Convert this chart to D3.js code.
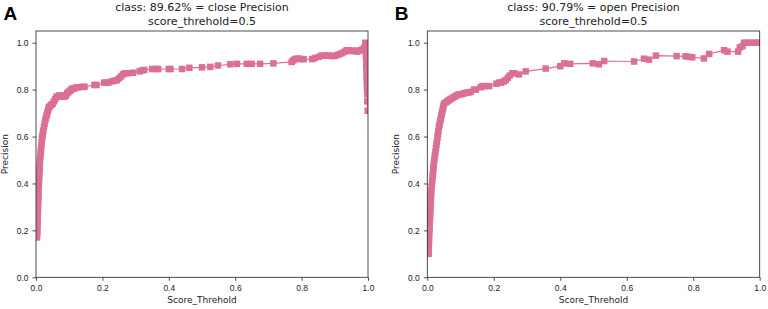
<!doctype html>
<html>
  <head>
    <script src="https://cdn.jsdelivr.net/npm/d3@7/dist/d3.min.js"></script>
    <style>
      body { margin: 0; background: #fff; }
      svg { font-family: "DejaVu Sans", sans-serif; }
      .tick text { font-size: 8.5px; fill: #222; }
      .lbl { font-size: 9px; fill: #222; }
      .ttl { font-size: 11px; fill: #222; }
      .tag { font-family: "Liberation Sans", Arial, sans-serif; font-size: 19px; font-weight: bold; fill: #000; }
    </style>
  </head>
  <body>
    <svg width="768" height="309"></svg>
    <script>
      // panel A: close
      var thrA = [0.003,0.0035,0.004,0.004,0.0045,0.005,0.005,0.0055,0.006,0.006,0.0065,0.007,0.007,0.0075,0.008,0.0085,0.009,0.0095,0.010,0.0105,0.011,0.0115,0.012,0.013,0.014,0.015,0.016,0.017,0.018,0.019,0.020,0.022,0.024,0.026,0.028,0.030,0.032,0.034,0.036,0.038,0.039,0.042,0.046,0.050,0.054,0.058,0.062,0.066,0.070,0.075,0.080,0.085,0.090,0.094,0.098,0.102,0.106,0.110,0.116,0.122,0.128,0.140,0.146,0.176,0.182,0.205,0.212,0.218,0.228,0.236,0.243,0.250,0.256,0.262,0.268,0.276,0.292,0.312,0.320,0.326,0.350,0.360,0.368,0.400,0.405,0.440,0.462,0.500,0.525,0.548,0.585,0.605,0.635,0.650,0.675,0.715,0.770,0.775,0.780,0.786,0.792,0.800,0.806,0.832,0.840,0.852,0.860,0.868,0.876,0.884,0.892,0.900,0.908,0.915,0.922,0.930,0.936,0.942,0.948,0.954,0.960,0.966,0.972,0.978,0.984,0.989,0.992,0.993,0.993,0.994,0.994,0.995,0.995,0.995,0.996,0.996,0.996,0.997,0.997,0.997,0.998,0.998,0.999];
      var precA = [0.17,0.185,0.20,0.215,0.23,0.245,0.26,0.275,0.29,0.305,0.32,0.335,0.35,0.365,0.38,0.395,0.41,0.425,0.44,0.455,0.47,0.485,0.50,0.515,0.53,0.545,0.56,0.575,0.59,0.60,0.61,0.625,0.64,0.655,0.67,0.68,0.69,0.70,0.71,0.72,0.725,0.73,0.735,0.74,0.75,0.76,0.77,0.77,0.775,0.775,0.775,0.77,0.775,0.785,0.79,0.795,0.80,0.805,0.805,0.81,0.81,0.812,0.812,0.82,0.82,0.83,0.83,0.83,0.835,0.838,0.84,0.848,0.856,0.865,0.87,0.87,0.872,0.878,0.882,0.884,0.888,0.888,0.888,0.888,0.888,0.888,0.893,0.895,0.897,0.903,0.908,0.91,0.91,0.91,0.91,0.912,0.918,0.925,0.93,0.932,0.932,0.93,0.93,0.93,0.935,0.94,0.945,0.945,0.945,0.945,0.943,0.944,0.948,0.952,0.956,0.962,0.968,0.968,0.965,0.965,0.966,0.962,0.965,0.968,0.972,0.98,1.0,0.985,0.97,0.955,0.94,0.925,0.91,0.895,0.88,0.865,0.85,0.835,0.82,0.80,0.78,0.75,0.71];

      // panel B: open
      var thrB = [0.004,0.004,0.0045,0.005,0.005,0.0055,0.006,0.0065,0.007,0.0075,0.008,0.0085,0.009,0.0095,0.010,0.0105,0.011,0.0115,0.012,0.013,0.014,0.015,0.016,0.017,0.018,0.019,0.020,0.0215,0.023,0.0245,0.026,0.0275,0.029,0.0305,0.032,0.0335,0.035,0.0365,0.038,0.0395,0.041,0.0425,0.044,0.0455,0.047,0.0485,0.050,0.055,0.060,0.065,0.070,0.076,0.082,0.088,0.094,0.100,0.106,0.112,0.118,0.124,0.130,0.140,0.146,0.160,0.166,0.174,0.186,0.208,0.216,0.222,0.230,0.236,0.242,0.248,0.256,0.262,0.276,0.296,0.356,0.400,0.412,0.430,0.498,0.516,0.532,0.622,0.652,0.667,0.688,0.750,0.777,0.787,0.797,0.832,0.848,0.893,0.903,0.935,0.940,0.948,0.953,0.962,0.972,0.982,0.992,0.998];
      var precB = [0.10,0.115,0.13,0.145,0.16,0.175,0.19,0.205,0.22,0.235,0.25,0.265,0.28,0.295,0.31,0.325,0.34,0.355,0.37,0.385,0.40,0.415,0.43,0.445,0.46,0.475,0.49,0.505,0.52,0.535,0.55,0.565,0.58,0.595,0.61,0.625,0.64,0.65,0.66,0.67,0.68,0.69,0.70,0.71,0.72,0.73,0.74,0.745,0.75,0.755,0.76,0.765,0.77,0.775,0.78,0.78,0.782,0.785,0.787,0.788,0.79,0.80,0.80,0.81,0.815,0.815,0.815,0.825,0.83,0.83,0.835,0.84,0.85,0.86,0.87,0.87,0.865,0.878,0.89,0.90,0.912,0.91,0.912,0.908,0.922,0.92,0.932,0.928,0.945,0.943,0.942,0.94,0.938,0.933,0.952,0.968,0.962,0.962,0.98,0.985,1.0,1.0,1.0,1.0,1.0,1.0];

      var xTicks = [0, 0.2, 0.4, 0.6, 0.8, 1.0];
      var yTicks = [0, 0.2, 0.4, 0.6, 0.8, 1.0];

      var panels = [
        {tag: "A", title: "class: 89.62% = close Precision", thr: thrA, prec: precA, left: 36, right: 368},
        {tag: "B", title: "class: 90.79% = open Precision", thr: thrB, prec: precB, left: 427.3, right: 759.7}
      ];

      var svg = d3.select("svg");
      var plotTop = 31, plotBottom = 277.3;
      var color = "#DB7093";

      panels.forEach((p, i) => {
        var x = d3.scaleLinear().domain([0, 1]).range([p.left, p.right]);
        var y = d3.scaleLinear().domain([0, 1.05]).range([plotBottom, plotTop]);
        var g = svg.append("g");
        var cx = (p.left + p.right) / 2;

        var clipId = "clip" + i;
        g.append("clipPath").attr("id", clipId)
          .append("rect")
            .attr("x", p.left).attr("y", plotTop)
            .attr("width", p.right - p.left).attr("height", plotBottom - plotTop);

        var pts = p.thr.map((t, k) => ({t: t, v: p.prec[k]}));
        var plot = g.append("g").attr("clip-path", `url(#${clipId})`);

        plot.append("path")
          .datum(pts)
          .attr("fill", "none")
          .attr("stroke", color)
          .attr("stroke-width", 1.2)
          .attr("d", d3.line().x(d => x(d.t)).y(d => y(d.v)));

        var ms = 6.5;
        plot.selectAll("rect.mk")
          .data(pts)
          .enter()
          .append("rect")
            .attr("class", "mk")
            .attr("x", d => x(d.t) - ms / 2)
            .attr("y", d => y(d.v) - ms / 2)
            .attr("width", ms)
            .attr("height", ms)
            .attr("fill", color);

        g.append("g")
          .attr("transform", `translate(0,${plotBottom})`)
          .call(d3.axisBottom(x).tickValues(xTicks).tickFormat(d3.format(".1f")).tickSize(3.5).tickPadding(4))
          .call(a => a.select(".domain").remove());
        g.append("g")
          .attr("transform", `translate(${p.left},0)`)
          .call(d3.axisLeft(y).tickValues(yTicks).tickFormat(d3.format(".1f")).tickSize(3.5).tickPadding(4))
          .call(a => a.select(".domain").remove());
        g.selectAll(".tick line").attr("stroke", "#222").attr("stroke-width", 0.8);

        g.append("rect")
          .attr("x", p.left).attr("y", plotTop)
          .attr("width", p.right - p.left).attr("height", plotBottom - plotTop)
          .attr("fill", "none").attr("stroke", "#222").attr("stroke-width", 0.8);

        g.append("text").attr("class", "ttl")
          .attr("x", cx).attr("y", 11).attr("text-anchor", "middle")
          .text(p.title);
        g.append("text").attr("class", "ttl")
          .attr("x", cx).attr("y", 24.5).attr("text-anchor", "middle")
          .text("score_threhold=0.5");

        g.append("text").attr("class", "lbl")
          .attr("x", cx).attr("y", 303).attr("text-anchor", "middle")
          .text("Score_Threhold");
        g.append("text").attr("class", "lbl")
          .attr("transform", `translate(${p.left - 28},${(plotTop + plotBottom) / 2}) rotate(-90)`)
          .attr("text-anchor", "middle")
          .text("Precision");

        g.append("text").attr("class", "tag")
          .attr("x", p.left - 32.5).attr("y", 19.5)
          .text(p.tag);
      });
    </script>
  </body>
</html>
